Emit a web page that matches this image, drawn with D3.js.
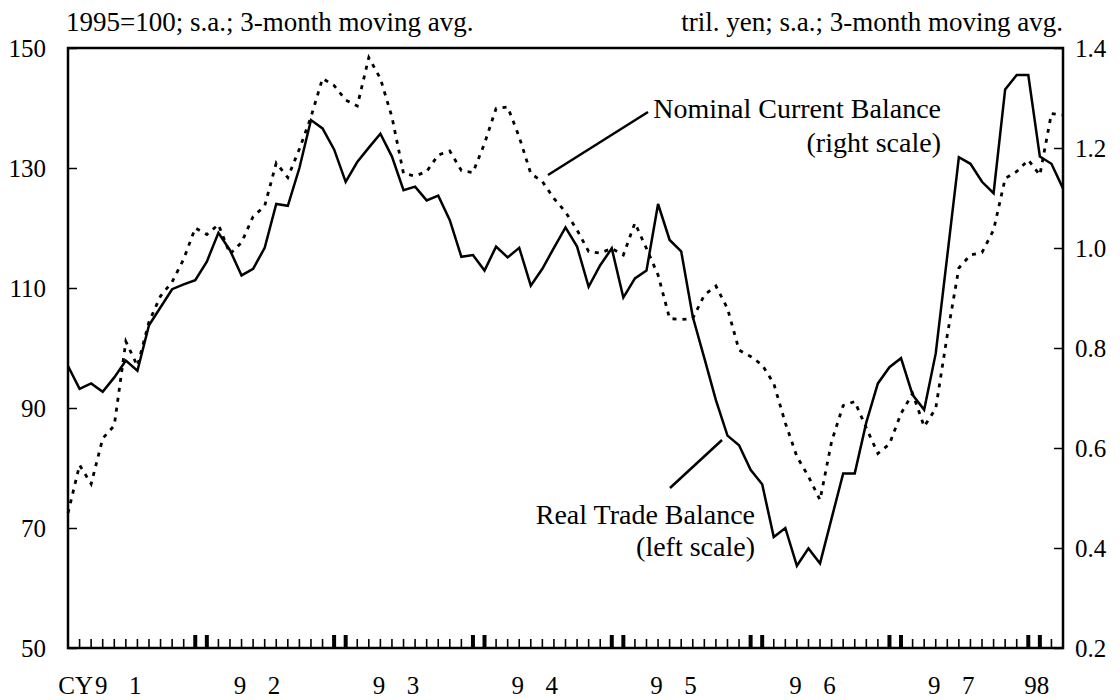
<!DOCTYPE html>
<html>
<head>
<meta charset="utf-8">
<script src="https://cdn.jsdelivr.net/npm/d3@7"></script>
<style>
	body { margin: 0; background: #fff; }
	svg text { font-family: "Liberation Serif", "Times New Roman", serif; fill: #000; }
</style>
</head>
<body>
<div id="chart"></div>
<script>

// monthly, CY1991 Jan .. CY1998 Mar
var startYear = 1991;
var monthCount = 87;

// Real Trade Balance, 1995=100 (left scale)
var realTrade = [
	97.0, 93.2, 94.1, 92.7, 95.1, 97.9, 96.2, 103.8, 106.8, 109.8, 110.6, 111.3,
	114.4, 119.2, 116.3, 112.1, 113.2, 116.7, 124.0, 123.7, 130.0, 138.0, 136.6, 133.1,
	127.7, 131.0, 133.4, 135.7, 131.9, 126.3, 126.9, 124.6, 125.4, 121.3, 115.2, 115.5,
	112.9, 116.9, 115.1, 116.7, 110.4, 113.2, 116.7, 120.1, 116.9, 110.2, 113.8, 116.6,
	108.4, 111.6, 112.9, 124.0, 118.0, 116.1, 105.2, 98.3, 91.3, 85.4, 83.8, 79.7,
	77.3, 68.5, 70.0, 63.7, 66.6, 64.1, 71.6, 79.1, 79.1, 87.6, 94.1, 96.8,
	98.3, 92.2, 89.7, 99.1, 115.4, 131.8, 130.7, 127.7, 125.8, 143.1, 145.5, 145.5,
	131.9, 130.7, 126.6
];

// Nominal Current Balance, tril. yen (right scale)
var nominalCurrent = [
	0.470, 0.566, 0.528, 0.619, 0.645, 0.813, 0.764, 0.852, 0.904, 0.932, 0.978, 1.040,
	1.027, 1.047, 0.988, 1.011, 1.063, 1.084, 1.170, 1.141, 1.198, 1.262, 1.339, 1.325,
	1.296, 1.284, 1.381, 1.339, 1.262, 1.149, 1.144, 1.153, 1.186, 1.194, 1.155, 1.151,
	1.209, 1.279, 1.282, 1.222, 1.149, 1.133, 1.099, 1.072, 1.036, 0.993, 0.990, 0.999,
	0.986, 1.050, 0.999, 0.946, 0.859, 0.857, 0.859, 0.906, 0.924, 0.879, 0.796, 0.783,
	0.766, 0.729, 0.650, 0.583, 0.543, 0.496, 0.613, 0.685, 0.693, 0.640, 0.589, 0.608,
	0.669, 0.709, 0.643, 0.679, 0.826, 0.960, 0.986, 0.991, 1.036, 1.139, 1.153, 1.176,
	1.146, 1.269, 1.266
];

var leftTicks = [50, 70, 90, 110, 130, 150];
var rightTicks = [0.2, 0.4, 0.6, 0.8, 1.0, 1.2, 1.4];
var yearLabels = ['9 1', '9 2', '9 3', '9 4', '9 5', '9 6', '9 7', '98'];

var width = 1120,
	height = 700,
	plot = { left: 68, right: 1063, top: 48, bottom: 648 };

var months = d3.range(monthCount).map(function(i) {
	return d3.timeFormat('%Y-%m')(new Date(startYear, i, 1));
});

var svg = d3.select('#chart')
	.append('svg')
		.attr('width', width)
		.attr('height', height);

var x = d3.scalePoint()
	.domain(months)
	.range([plot.left, plot.right]);

var yLeft = d3.scaleLinear()
	.domain([50, 150])
	.range([plot.bottom, plot.top]);

var yRight = d3.scaleLinear()
	.domain([0.2, 1.4])
	.range([plot.bottom, plot.top]);

// axes: inward ticks, labels outside
var leftAxis = svg.append('g')
	.attr('transform', 'translate(' + plot.left + ',0)')
	.call(d3.axisRight(yLeft).tickValues(leftTicks).tickSize(9).tickFormat(''));

var rightAxis = svg.append('g')
	.attr('transform', 'translate(' + plot.right + ',0)')
	.call(d3.axisLeft(yRight).tickValues(rightTicks).tickSize(9).tickFormat(''));

[leftAxis, rightAxis].forEach(function(g) {
	g.select('.domain').remove();
	g.selectAll('line').attr('stroke', '#000').attr('stroke-width', 1.5);
});

svg.append('g').selectAll('text')
	.data(leftTicks).enter()
	.append('text')
		.attr('x', plot.left - 22)
		.attr('y', function(d) { return yLeft(d); })
		.attr('dy', '0.35em')
		.attr('text-anchor', 'end')
		.style('font-size', '25px')
		.text(function(d) { return d; });

svg.append('g').selectAll('text')
	.data(rightTicks).enter()
	.append('text')
		.attr('x', plot.right + 12)
		.attr('y', function(d) { return yRight(d); })
		.attr('dy', '0.35em')
		.style('font-size', '25px')
		.text(function(d) { return d3.format('.1f')(d); });

// monthly ticks along the bottom, heavier at year change
var monthTicks = months.slice(1, monthCount - 1);
svg.append('g').selectAll('line')
	.data(monthTicks).enter()
	.append('line')
		.attr('x1', function(d) { return x(d); })
		.attr('x2', function(d) { return x(d); })
		.attr('y1', plot.bottom)
		.attr('y2', function(d) {
			var m = +d.slice(5);
			return (m === 12 || m === 1) ? plot.bottom - 13 : plot.bottom - 9;
		})
		.attr('stroke', '#000')
		.attr('stroke-width', function(d) {
			var m = +d.slice(5);
			return (m === 12 || m === 1) ? 4 : 1.6;
		});

// year labels
var years = svg.append('g').selectAll('text')
	.data(yearLabels).enter()
	.append('text')
		.attr('y', 694)
		.style('font-size', '25px');

years.each(function(d, i) {
	var t = d3.select(this);
	var jan = x(months[i * 12]);
	var parts = d.split(' ');
	if (parts.length === 1) {
		t.attr('x', jan - 3).attr('text-anchor', 'middle').text(d);
		return;
	}
	if (i === 0) {
		t.append('tspan').attr('x', jan + 25).attr('text-anchor', 'end').text('CY');
	}
	t.append('tspan').attr('x', jan + 27).text(parts[0]);
	t.append('tspan').attr('x', jan + 61).text(parts[1]);
});

// series
var realLine = d3.line()
	.x(function(d, i) { return x(months[i]); })
	.y(function(d) { return yLeft(d); });

var nominalLine = d3.line()
	.x(function(d, i) { return x(months[i]); })
	.y(function(d) { return yRight(d); });

svg.append('path')
	.datum(nominalCurrent)
	.attr('d', nominalLine)
	.attr('fill', 'none')
	.attr('stroke', '#000')
	.attr('stroke-width', 2.8)
	.attr('stroke-dasharray', '4,6');

svg.append('path')
	.datum(realTrade)
	.attr('d', realLine)
	.attr('fill', 'none')
	.attr('stroke', '#000')
	.attr('stroke-width', 2.5)
	.attr('stroke-linejoin', 'miter');

// frame
svg.append('rect')
	.attr('x', plot.left)
	.attr('y', plot.top)
	.attr('width', plot.right - plot.left)
	.attr('height', plot.bottom - plot.top)
	.attr('fill', 'none')
	.attr('stroke', '#000')
	.attr('stroke-width', 2.5);

// unit titles
svg.append('text')
	.attr('x', plot.left - 2)
	.attr('y', 31)
	.style('font-size', '27px')
	.text('1995=100; s.a.; 3-month moving avg.');

svg.append('text')
	.attr('x', plot.right)
	.attr('y', 31)
	.attr('text-anchor', 'end')
	.style('font-size', '27px')
	.text('tril. yen; s.a.; 3-month moving avg.');

// annotations
function annotate(lines, tx, ty, gap, from, to) {
	svg.append('line')
		.attr('x1', from[0]).attr('y1', from[1])
		.attr('x2', to[0]).attr('y2', to[1])
		.attr('stroke', '#000')
		.attr('stroke-width', 2.5);
	var t = svg.append('text')
		.attr('text-anchor', 'end')
		.style('font-size', '28px');
	lines.forEach(function(s, k) {
		t.append('tspan').attr('x', tx).attr('y', ty + k * gap).text(s);
	});
}

annotate(['Nominal Current Balance', '(right scale)'], 941, 118, 34, [548, 175], [648, 112]);
annotate(['Real Trade Balance', '(left scale)'], 755, 524, 32, [670, 488], [722, 440]);

</script>
</body>
</html>
